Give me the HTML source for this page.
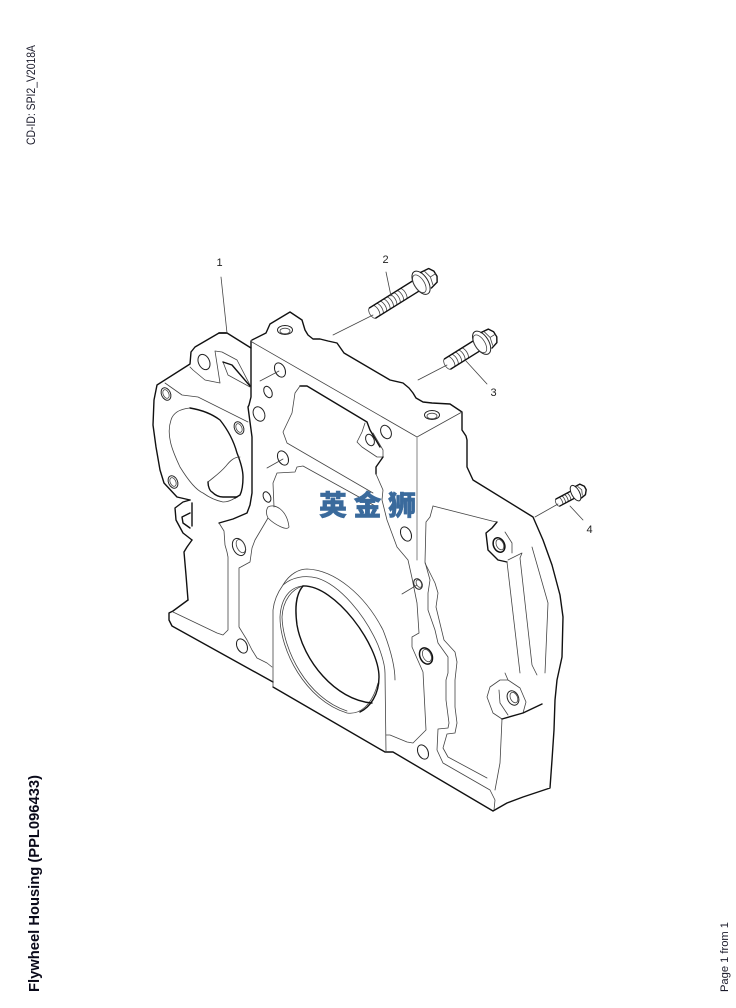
<!DOCTYPE html>
<html><head><meta charset="utf-8"><style>
html,body{margin:0;padding:0;background:#fff;width:736px;height:1008px;overflow:hidden}
svg{display:block}
.k{fill:none;stroke:#111;stroke-width:1.4;stroke-linejoin:round;stroke-linecap:round}
.t{fill:none;stroke:#444;stroke-width:.8;stroke-linejoin:round;stroke-linecap:round}
.g{fill:none;stroke:#777;stroke-width:.9;stroke-linejoin:round;stroke-linecap:round}
.h{fill:#fff;stroke:#222;stroke-width:1}
.l{font:11px "Liberation Sans",sans-serif;fill:#222;text-anchor:middle}
</style></head><body>
<svg width="736" height="1008" viewBox="0 0 736 1008" xmlns="http://www.w3.org/2000/svg">
<text transform="translate(35,145) rotate(-90)" font-family="Liberation Sans, sans-serif" font-size="11.5" fill="#1a1a2a" textLength="100" lengthAdjust="spacingAndGlyphs">CD-ID: SPI2_V2018A</text>
<text transform="translate(39,992) rotate(-90)" font-family="Liberation Sans, sans-serif" font-size="15" font-weight="bold" fill="#0a0a1a" textLength="217" lengthAdjust="spacingAndGlyphs">Flywheel Housing (PPL096433)</text>
<text transform="translate(728,992) rotate(-90)" font-family="Liberation Sans, sans-serif" font-size="11" fill="#1a1a2a" textLength="70" lengthAdjust="spacingAndGlyphs">Page 1 from 1</text>

<!-- outline -->
<path class="k" d="M227,333 L219,333 L195,347 L191,352 L190,364 L157,385 L154,400 L153,425 L156,447 L160,470 L164,483 L177,497 L190,500"/>
<path class="k" d="M219,333 L227,333 L251,348"/>
<path class="k" d="M252,340 L266,333 L270,324 L290,312 L302,320 L305,330 L308,335 L313,339 L320,339 L328,341 L337,343 L344,353 L390,380 L403,383 L409,388 L413,393 L416,398 L423,402 L432,403 L450,404 L462,412 L462,430 L466,436 L467,440 L467,467 L473,480 L533,517 L543,540 L552,565 L560,595 L563,617 L562,657 L557,680 L555,700 L554,730 L552,760 L550,788 L523,797 L507,803 L493,811 L393,752 L385,752 L273,687 M273,682 L172,626 L169,620 L169,613 L173,611 L188,600"/>
<path class="k" d="M251,341 L251,397 L249,405 L248,407 L252,437 L252,493 L250,505 L247,513 L233,519 L219,523"/>
<path class="t" d="M219,523 L224,531 L225,545 L227,552 L228,557 L228,630 L223,635 L217,633 L173,612"/>
<path class="k" d="M188,600 L186,575 L184,552 L187,547 L192,540"/>
<path class="k" d="M190,500 L183,502 L175,508 L176,520 L183,533 L192,540 M190,513 L182,517 L183,523 L190,528 M192,503 L192,526"/>
<!-- top face -->
<path class="t" d="M252,342 L417,437 L462,412"/>
<path class="g" d="M417,437 L417,560"/>
<path class="t" d="M190,367 L193,370 L205,380 L220,383 L215,351 L222,352 L237,360 L250,385"/>
<path class="t" d="M223,362 L228,375 L250,387"/>
<path class="k" d="M223,362 L232,365 L250,386"/>
<path class="t" d="M165,383 L182,395 L198,397 L248,422"/>
<!-- left port -->
<path class="t" d="M190,408 C180,409 173,413 171,420 C166,435 172,450 180,467 C188,480 196,490 203,493 C210,498 218,501 223,502 C228,502 232,500 235,498"/>
<path class="k" d="M190,408 C202,410 212,414 220,420 C228,430 234,442 237,453 C241,463 243,470 243,477 C243,486 242,491 240,495 L235,498"/>
<path class="t" d="M240,457 C234,457 230,461 226,466 C220,473 214,477 208,482"/>
<path class="k" d="M208,482 C208,487 210,491 212,492 C216,496 220,497 223,497 L237,497"/>
<!-- central cutout -->
<path class="k" d="M300,386 L307,386 L367,422 L370,430 L380,447"/>
<path class="t" d="M300,386 L295,393 L292,413 L283,432 L287,443 L373,493"/>
<path class="t" d="M297,467 L303,466 L377,507 M297,467 L295,472 L277,473 L273,483 L274,507"/>
<path class="t" d="M365,423 L362,432 L357,442 L362,447 L377,457 L383,457 L383,450 L373,433"/>
<path class="k" d="M383,457 L376,467 L376,474"/>
<path class="t" d="M376,474 L383,490 L382,500 L387,520 L397,547 L408,560 L412,578 L417,603 L419,633 L412,637 L412,647 L423,672 L426,730 L413,743 L407,742 L390,735 L386,735"/>
<path class="t" d="M268,507 C275,503 287,510 289,527 C287,531 275,525 268,518 C266,514 266,510 268,507 Z M268,518 L255,540 L252,548 L250,562 L239,568 L239,627 L247,640 L252,650 L257,658 L267,663 L272,667"/>
<!-- seal -->
<path class="t" d="M273,687 L273,610 C274,600 278,592 283,585 C290,573 300,569 307,569 C335,570 365,595 383,630 C390,648 395,665 395,680"/>
<path class="t" d="M283,585 C292,577 305,575 317,578 C340,585 365,615 378,645 C383,658 385,668 385,673 L386,752"/>
<path class="t" d="M303,586 C290,587 281,598 280,617 C280,650 305,700 347,713 C360,715 372,705 378,683"/>
<path class="t" d="M303,586 C292,589 283,600 282,617 C283,650 307,698 347,711"/>
<path class="k" d="M303,586 C295,595 295,610 297,625 C303,660 335,700 372,703"/>
<path class="k" d="M303,586 C335,585 379,645 379,677 C379,695 370,707 360,712"/>
<!-- right region -->
<path class="t" d="M433,506 L430,517 L426,522 L425,562 L430,580 L428,593 L428,610 L435,630 L438,643 L448,657 L448,673 L446,680 L446,700 L449,723 L448,728 L438,729 L437,750 L443,763 L490,790 L495,800 L494,810"/>
<path class="t" d="M425,563 L435,583 L438,593 L436,607 L444,640 L455,652 L457,662 L455,680 L455,707 L457,723 L455,733 L447,734 L443,748 L448,757 L487,778"/>
<path class="t" d="M433,506 L492,521 L497,522"/>
<path class="k" d="M497,522 L492,528 L486,533 L488,550 L498,560 L507,562"/>
<path class="t" d="M505,532 L512,543 L512,553 M507,562 L520,673 M508,560 L522,553 L520,558 L532,665 L537,675 M532,547 L548,603 L545,673"/>
<path class="t" d="M505,673 L508,680 L500,680 L490,687 L487,697 L493,713 L502,719 L500,763 L495,790 M499,690 L500,703 L508,715 M508,680 L520,688 L526,702 L523,713"/>
<path class="k" d="M502,719 L523,713 L542,704"/>
<!-- holes -->
<g transform="rotate(-25 204 362)"><ellipse class="h" cx="204" cy="362" rx="5.500" ry="8" stroke-width="1.3"/></g>
<g transform="rotate(-25 166 394)"><ellipse class="h" cx="166" cy="394" rx="4.500" ry="6.500"/><ellipse class="t" cx="166" cy="394" rx="2.800" ry="4.600"/></g>
<g transform="rotate(-25 239 428)"><ellipse class="h" cx="239" cy="428" rx="4.500" ry="6.500"/><ellipse class="t" cx="239" cy="428" rx="2.800" ry="4.600"/></g>
<g transform="rotate(-25 173 482)"><ellipse class="h" cx="173" cy="482" rx="4.500" ry="6.500"/><ellipse class="t" cx="173" cy="482" rx="2.800" ry="4.600"/></g>
<g transform="rotate(-25 280 370)"><ellipse class="h" cx="280" cy="370" rx="5" ry="7.500"/></g>
<g transform="rotate(-25 268 392)"><ellipse class="h" cx="268" cy="392" rx="3.800" ry="6"/></g>
<g transform="rotate(-25 259 414)"><ellipse class="h" cx="259" cy="414" rx="5.500" ry="7.500"/></g>
<g transform="rotate(-25 283 458)"><ellipse class="h" cx="283" cy="458" rx="5" ry="7.500"/></g>
<g transform="rotate(-25 267 497)"><ellipse class="h" cx="267" cy="497" rx="3.500" ry="5.500"/></g>
<g transform="rotate(-25 239 547)"><ellipse class="h" cx="239" cy="547" rx="6" ry="9"/><ellipse class="t" cx="241" cy="547" rx="4" ry="7"/></g>
<g transform="rotate(-25 242 646)"><ellipse class="h" cx="242" cy="646" rx="5" ry="7.500"/></g>
<ellipse class="h" cx="285" cy="330" rx="7.500" ry="4.500"/><ellipse class="t" cx="285" cy="331" rx="5" ry="2.800"/>
<ellipse class="h" cx="432" cy="415" rx="7.500" ry="4.500"/><ellipse class="t" cx="432" cy="416" rx="5" ry="2.800"/>
<g transform="rotate(-25 386 432)"><ellipse class="h" cx="386" cy="432" rx="5" ry="7"/></g>
<g transform="rotate(-25 370 440)"><ellipse class="h" cx="370" cy="440" rx="4" ry="6"/></g>
<g transform="rotate(-25 406 534)"><ellipse class="h" cx="406" cy="534" rx="5" ry="7.500"/></g>
<g transform="rotate(-25 418 584)"><ellipse class="h" cx="418" cy="584" rx="4" ry="5.500"/><ellipse class="t" cx="419" cy="584" rx="2.500" ry="4"/></g>
<g transform="rotate(-25 426 656)"><ellipse cx="426" cy="656" rx="6" ry="8.500" fill="#fff" stroke="#111" stroke-width="1.500"/><ellipse class="t" cx="427" cy="656" rx="4" ry="6.500"/></g>
<g transform="rotate(-25 423 752)"><ellipse class="h" cx="423" cy="752" rx="5" ry="7.500"/></g>
<g transform="rotate(-25 499 545)"><ellipse cx="499" cy="545" rx="5.500" ry="7.500" fill="#fff" stroke="#111" stroke-width="1.500"/><ellipse class="t" cx="500" cy="545" rx="3.500" ry="5.500"/></g>
<g transform="rotate(-25 513 698)"><ellipse class="h" cx="513" cy="698" rx="5.500" ry="7.500"/><ellipse class="t" cx="514" cy="698" rx="3.500" ry="5.500"/></g>
<!-- hole leaders -->
<path class="t" d="M260,381 L279,371 M267,468 L283,459 M402,594 L417,585"/>

<!-- bolt 2 -->
<g transform="translate(371,314) rotate(-32)">
<path class="t" d="M2,-6 A3,6 0 0 0 2,6"/>
<path class="t" d="M6,-6 a2.500,6 0 0 1 0,12 M10,-6 a2.500,6 0 0 1 0,12 M14,-6 a2.500,6 0 0 1 0,12 M18,-6 a2.500,6 0 0 1 0,12 M22,-6 a2.500,6 0 0 1 0,12 M26,-6 a2.500,6 0 0 1 0,12 M30,-6 a2.500,6 0 0 1 0,12 M34,-6 a2.500,6 0 0 1 0,12 M38,-6 a2.500,6 0 0 1 0,12"/>
<path class="k" d="M2,-6 L55,-6 M2,6 L55,6"/>
<ellipse class="h" cx="59" cy="0" rx="7" ry="13" stroke-width="1.200"/><ellipse class="t" cx="57" cy="0" rx="5" ry="10"/>
<path class="k" d="M64,-9 L73,-8 L76,-3 L76,3 L73,8 L65,10"/><path class="t" d="M68,-8 L70,0 L68,8 M70,0 L76,0"/>
</g>
<!-- bolt 3 -->
<g transform="translate(446,365) rotate(-32)">
<path class="t" d="M2,-6 A3,6 0 0 0 2,6"/>
<path class="t" d="M6,-6 a2.500,6 0 0 1 0,12 M10,-6 a2.500,6 0 0 1 0,12 M14,-6 a2.500,6 0 0 1 0,12 M18,-6 a2.500,6 0 0 1 0,12 M22,-6 a2.500,6 0 0 1 0,12"/>
<path class="k" d="M2,-6 L38,-6 M2,6 L38,6"/>
<ellipse class="h" cx="42" cy="0" rx="7" ry="13" stroke-width="1.200"/><ellipse class="t" cx="40" cy="0" rx="5" ry="10"/>
<path class="k" d="M47,-9 L55,-8 L58,-3 L58,3 L55,8 L48,10"/><path class="t" d="M50,-8 L52,0 L50,8 M52,0 L58,0"/>
</g>
<!-- bolt 4 -->
<g transform="translate(557,503) rotate(-28)">
<path class="t" d="M1,-4 A2,4 0 0 0 1,4 M4,-4 a1.500,4 0 0 1 0,8 M7,-4 a1.500,4 0 0 1 0,8 M10,-4 a1.500,4 0 0 1 0,8 M13,-4 a1.500,4 0 0 1 0,8"/>
<path class="k" d="M1,-4 L19,-4 M1,4 L19,4"/>
<ellipse class="h" cx="21" cy="0" rx="4" ry="8.500"/>
<path class="k" d="M24,-6 L29,-6 L32,-2 L32,2 L29,6 L24,7"/><path class="t" d="M26,-5 L28,0 L26,5"/>
</g>

<!-- leaders -->
<path class="t" d="M221,277 L227,333 M386,272 L391,296 M333,335 L373,315 M487,384 L466,361 M418,380 L447,365 M583,520 L570,506 M535,517 L558,504"/>
<text class="l" x="219.500" y="266">1</text>
<text class="l" x="385.500" y="263">2</text>
<text class="l" x="493.500" y="396">3</text>
<text class="l" x="589.500" y="533">4</text>

<!-- watermark -->
<text x="319" y="515" font-family="Liberation Sans, Noto Sans CJK SC, sans-serif" font-size="28" font-weight="900" fill="#3a6a9c" stroke="#3a6a9c" stroke-width=".4" letter-spacing="6.500">英金狮</text>
</svg>
</body></html>
